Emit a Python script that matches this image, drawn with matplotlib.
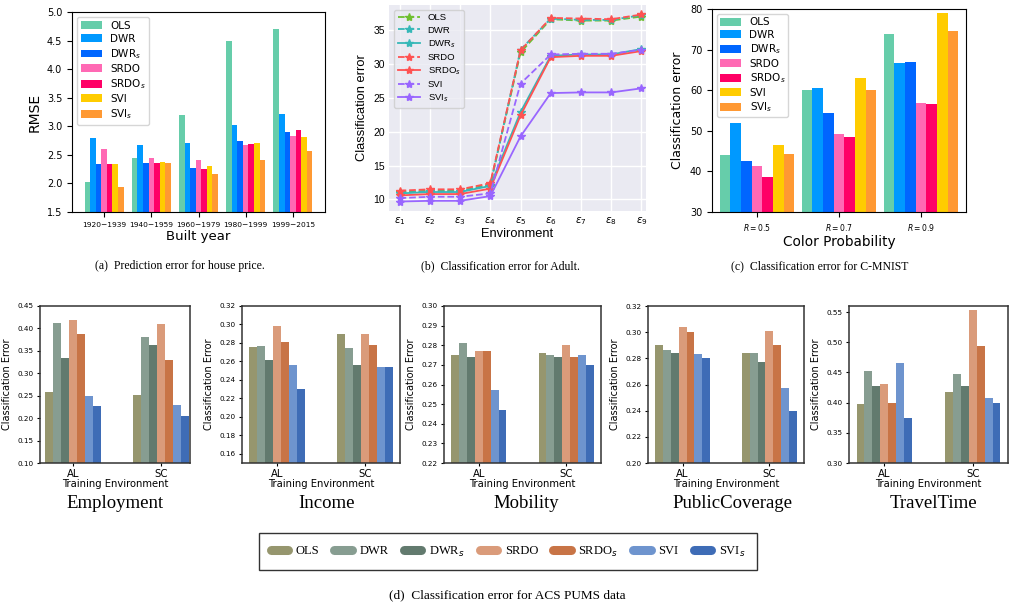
import numpy as np
import matplotlib
matplotlib.use("Agg")
import matplotlib.pyplot as plt
from matplotlib.lines import Line2D

W, H = 1015, 608

# ---------------- data ----------------
methods = ['OLS', 'DWR', 'DWR$_s$', 'SRDO', 'SRDO$_s$', 'SVI', 'SVI$_s$']

# (a) house price RMSE, rows = methods, cols = built-year groups
years = ['1920\u22121939', '1940\u22121959', '1960\u22121979', '1980\u22121999', '1999\u22122015']
house_rmse = [
    [2.02, 2.44, 3.19, 4.49, 4.71],
    [2.79, 2.67, 2.70, 3.03, 3.21],
    [2.34, 2.35, 2.27, 2.74, 2.90],
    [2.60, 2.44, 2.41, 2.67, 2.83],
    [2.34, 2.35, 2.25, 2.69, 2.93],
    [2.34, 2.37, 2.30, 2.70, 2.81],
    [1.94, 2.35, 2.16, 2.41, 2.56],
]

# (b) Adult classification error per environment
environments = [r'$\varepsilon_{%d}$' % i for i in range(1, 10)]
adult_err = [
    [11.1, 11.3, 11.3, 12.2, 31.7, 36.6, 36.4, 36.4, 37.0],
    [11.0, 11.2, 11.2, 12.1, 32.1, 36.7, 36.5, 36.5, 37.2],
    [10.9, 11.1, 11.1, 12.0, 22.9, 31.2, 31.4, 31.4, 32.2],
    [11.3, 11.5, 11.5, 12.4, 32.0, 36.8, 36.7, 36.6, 37.3],
    [10.6, 10.8, 10.8, 11.6, 22.4, 31.0, 31.2, 31.2, 31.9],
    [10.2, 10.4, 10.4, 10.9, 27.1, 31.4, 31.5, 31.5, 32.1],
    [9.7, 9.8, 9.8, 10.5, 19.3, 25.7, 25.8, 25.8, 26.4],
]

# (c) C-MNIST classification error
color_probs = ['$R = 0.5$', '$R = 0.7$', '$R = 0.9$']
cmnist_err = [
    [44.0, 60.1, 73.9],
    [52.0, 60.6, 66.7],
    [42.5, 54.4, 67.0],
    [41.3, 49.2, 56.9],
    [38.6, 48.5, 56.6],
    [46.5, 63.0, 79.1],
    [44.3, 60.1, 74.6],
]

# (d) ACS PUMS classification error, rows = methods, cols = training env
train_envs = ['AL', 'SC']
tasks = ['Employment', 'Income', 'Mobility', 'PublicCoverage', 'TravelTime']
acs_employment = [[0.258, 0.252], [0.411, 0.382], [0.333, 0.362], [0.418, 0.409],
                  [0.387, 0.329], [0.250, 0.229], [0.226, 0.204]]
acs_income = [[0.276, 0.290], [0.277, 0.275], [0.262, 0.256], [0.298, 0.290],
              [0.281, 0.278], [0.256, 0.254], [0.230, 0.254]]
acs_mobility = [[0.275, 0.276], [0.281, 0.275], [0.274, 0.274], [0.277, 0.280],
                [0.277, 0.274], [0.257, 0.275], [0.247, 0.270]]
acs_publiccov = [[0.290, 0.284], [0.286, 0.284], [0.284, 0.277], [0.304, 0.301],
                 [0.300, 0.290], [0.283, 0.257], [0.280, 0.2395]]
acs_traveltime = [[0.397, 0.417], [0.453, 0.448], [0.427, 0.428], [0.431, 0.554],
                  [0.400, 0.494], [0.465, 0.408], [0.374, 0.400]]
acs_data = [acs_employment, acs_income, acs_mobility, acs_publiccov, acs_traveltime]
acs_ylims = [(0.10, 0.45), (0.15, 0.32), (0.22, 0.30), (0.20, 0.32), (0.30, 0.56)]
acs_yticks = [np.arange(0.10, 0.451, 0.05), np.arange(0.16, 0.321, 0.02),
              np.arange(0.22, 0.301, 0.01), np.arange(0.20, 0.321, 0.02),
              np.arange(0.30, 0.551, 0.05)]

# ---------------- styles ----------------
bar_colors = ['#66CDAA', '#0099FF', '#0066FF', '#FF69B4', '#FF0066', '#FFCC00', '#FF9933']
line_colors = ['#6FBF2F', '#36B8B8', '#36B8B8', '#FF5252', '#FF5252', '#9966FF', '#9966FF']
line_styles = ['--', '--', '-', '--', '-', '--', '-']
acs_colors = ['#96966E', '#879D91', '#627A6E', '#DA9B7A', '#C87446', '#6E94CE', '#3E6CB6']

fig = plt.figure(figsize=(W / 100, H / 100), dpi=100)


def rect(l, t, r, b):
    return [l / W, 1 - b / H, (r - l) / W, (b - t) / H]


serif = 'Liberation Serif'

# ---------------- (a) ----------------
ax = fig.add_axes(rect(72, 12, 325, 212))
w = 0.118
x = np.arange(len(years))
for i, m in enumerate(methods):
    ax.bar(x + (i - 3) * w, house_rmse[i], w, color=bar_colors[i], label=m)
ax.set_ylim(1.5, 5.0)
ax.set_xlim(-0.68, len(years) - 1 + 0.68)
ax.set_yticks(np.arange(1.5, 5.01, 0.5))
ax.set_xticks(x)
ax.set_xticklabels(years, fontsize=5.4)
ax.tick_params(axis='y', labelsize=7)
ax.set_ylabel('RMSE', fontsize=10)
ax.set_xlabel('Built year', fontsize=9.5, labelpad=2)
ax.legend(loc='upper left', fontsize=7.5, labelspacing=0.3, borderpad=0.35,
          handleheight=0.8)

# ---------------- (b) ----------------
ax = fig.add_axes(rect(389, 5, 646, 211))
ax.set_facecolor('#EAEAF2')
for s in ax.spines.values():
    s.set_visible(False)
ax.grid(True, color='white', linewidth=1.0)
ax.set_axisbelow(True)
xe = np.arange(len(environments))
for i, m in enumerate(methods):
    ax.plot(xe, adult_err[i], linestyle=line_styles[i], color=line_colors[i],
            marker='*', markersize=6, linewidth=1.3, label=m)
ax.set_xticks(xe)
ax.set_xticklabels(environments, fontsize=8)
ax.set_yticks([10, 15, 20, 25, 30, 35])
ax.tick_params(axis='both', length=0, labelsize=7.5, pad=3)
ax.set_xlim(-0.35, 8.15)
ax.set_ylim(8.3, 38.7)
ax.set_ylabel('Classification error', fontsize=9.3, family='Liberation Sans')
ax.set_xlabel('Environment', fontsize=9.3, family='Liberation Sans', labelpad=1)
for t in ax.get_yticklabels():
    t.set_family('Liberation Sans')
ax.legend(loc='upper left', labelspacing=0.35, borderpad=0.4,
          facecolor='#EAEAF2', edgecolor='#CCCCCC', handlelength=2.4,
          prop={'family': 'Liberation Sans', 'size': 6.8})

# ---------------- (c) ----------------
ax = fig.add_axes(rect(712, 9, 966, 212))
wc = 0.13
xc = np.arange(len(color_probs))
for i, m in enumerate(methods):
    ax.bar(xc + (i - 3) * wc, cmnist_err[i], wc, color=bar_colors[i], label=m)
ax.set_ylim(30, 80)
ax.set_xlim(-0.55, len(color_probs) - 1 + 0.55)
ax.set_xticks(xc)
ax.set_xticklabels(color_probs, fontsize=5.5)
ax.tick_params(axis='y', labelsize=7)
ax.set_ylabel('Classification error', fontsize=9)
ax.set_xlabel('Color Probability', fontsize=9.8, labelpad=2)
ax.legend(loc='upper left', fontsize=7.5, labelspacing=0.25, borderpad=0.3,
          handleheight=0.8)

# ---------------- top captions ----------------
fig.text(180 / W, 1 - 266 / H, '(a)  Prediction error for house price.', ha='center',
         va='center', family=serif, fontsize=8.5)
fig.text(500 / W, 1 - 266 / H, '(b)  Classification error for Adult.', ha='center',
         va='center', family=serif, fontsize=8.5)
fig.text(820 / W, 1 - 266 / H, '(c)  Classification error for C-MNIST', ha='center',
         va='center', family=serif, fontsize=8.5)

# ---------------- (d) ----------------
acs_boxes = [(40, 190), (242, 400), (444, 601), (648, 804), (849, 1008)]
title_x = [115, 327, 526, 732, 933]
wd = 0.09
xa = np.arange(len(train_envs))
for k, task in enumerate(tasks):
    l, r = acs_boxes[k]
    ax = fig.add_axes(rect(l, 306, r, 463))
    data = acs_data[k]
    for i, m in enumerate(methods):
        ax.bar(xa + (i - 3) * wd, data[i], wd, color=acs_colors[i], label=m)
    ax.set_ylim(*acs_ylims[k])
    if k == 0:
        ax.set_xlim(-0.375, 1.33)
    else:
        ax.set_xlim(-0.4, 1.4)
    ax.set_yticks(acs_yticks[k])
    ax.set_yticklabels(['%.2f' % v for v in acs_yticks[k]])
    ax.set_xticks(xa)
    ax.set_xticklabels(train_envs, fontsize=7.3)
    ax.tick_params(axis='y', labelsize=5.2, length=2.5, pad=2)
    ax.tick_params(axis='x', length=2.5, pad=1.5)
    for s in ax.spines.values():
        s.set_color('#333333')
        s.set_linewidth(1.1)
    ax.set_ylabel('Classification Error', fontsize=7)
    ax.set_xlabel('Training Environment', fontsize=7.2, labelpad=0.5)
    fig.text(title_x[k] / W, 1 - 503 / H, task, ha='center', va='center',
             family=serif, fontsize=13.5)

handles = [Line2D([], [], color=c, linewidth=6.5, solid_capstyle='round')
           for c in acs_colors]
leg = fig.legend(handles, methods, loc='center', ncol=7, mode='expand',
                 bbox_to_anchor=(253 / W, 1 - 571 / H, 510 / W, 39 / H),
                 prop={'family': serif, 'size': 9}, frameon=True, fancybox=False,
                 edgecolor='black', handlelength=1.4, handletextpad=0.6,
                 borderpad=0.9, columnspacing=1.0)
leg.get_frame().set_linewidth(1.0)

fig.text(507 / W, 1 - 595 / H, '(d)  Classification error for ACS PUMS data',
         ha='center', va='center', family=serif, fontsize=9.5)

fig.savefig('out.png', dpi=100)
